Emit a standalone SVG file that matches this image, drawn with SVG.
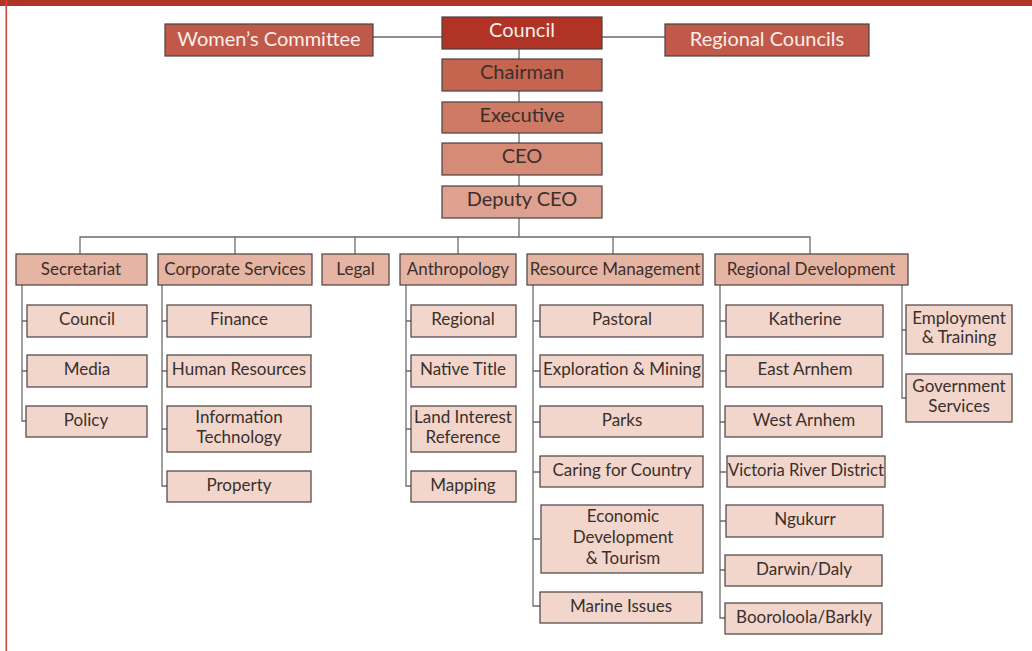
<svg xmlns="http://www.w3.org/2000/svg" width="1032" height="651" viewBox="0 0 1032 651">
<style>
text{font-family:Lato,"Liberation Sans",sans-serif;text-anchor:middle}
.box rect{stroke:#4a4040;stroke-width:1.2}
.t0 text{fill:#fbeee9;font-size:20px}
.t1 text{fill:#3a2f2c;font-size:20px}
.t2 text{fill:#3a2f2c;font-size:17px}
.t3 text{fill:#3a2f2c;font-size:17px}
.l2 rect{fill:#e6b4a2}
.l3 rect{fill:#f2d6cb}
#connectors path{fill:none;stroke:#6e6a6a;stroke-width:1.3}
</style>
<rect x="0" y="0" width="1032" height="651" fill="#ffffff"/>
<rect x="0" y="0" width="1032" height="6" fill="#b23427"/>
<rect x="5.5" y="0" width="1.6" height="651" fill="#c8483a"/>
<g id="connectors">
<path d="M373 37H442M602 37H665"/>
<path d="M519 49V237"/>
<path d="M80 254V237H810V254M235 237V254M355 237V254M458 237V254M613 237V254"/>
<path d="M22 285V421H27M22 321H27M22 371H27"/>
<path d="M162 285V486H167M162 321H167M162 371H167M162 429H167"/>
<path d="M406 285V486H411M406 321H411M406 371H411M406 429H411"/>
<path d="M533 285V606H540M533 321H540M533 371H540M533 422H540M533 472H540M533 539H540"/>
<path d="M720 285V618H726M720 321H726M720 371H726M720 422H726M720 472H726M720 521H726M720 570H726"/>
<path d="M902 285V398H906M902 330H906"/>
</g>
<g id="women" class="box t0"><rect x="165" y="24" width="208" height="32" fill="#c0594a"/><text x="269" y="46">Women’s Committee</text></g>
<g id="council" class="box t0"><rect x="442" y="17" width="160" height="32" fill="#b03326"/><text x="522" y="37">Council</text></g>
<g id="regional-councils" class="box t0"><rect x="665" y="24" width="204" height="32" fill="#c0594a"/><text x="767" y="46">Regional Councils</text></g>
<g id="chairman" class="box t1"><rect x="442" y="59" width="160" height="32" fill="#c56550"/><text x="522" y="79">Chairman</text></g>
<g id="executive" class="box t1"><rect x="442" y="102" width="160" height="31" fill="#cf7a65"/><text x="522" y="122">Executive</text></g>
<g id="ceo" class="box t1"><rect x="442" y="143" width="160" height="32" fill="#d68b77"/><text x="522" y="163">CEO</text></g>
<g id="deputy-ceo" class="box t1"><rect x="442" y="186" width="160" height="32" fill="#dfa18f"/><text x="522" y="206">Deputy CEO</text></g>

<g id="secretariat" class="box t2 l2"><rect x="16" y="254" width="131" height="31"/><text x="81" y="275">Secretariat</text></g>
<g id="corporate-services" class="box t2 l2"><rect x="158" y="254" width="154" height="31"/><text x="235" y="275">Corporate Services</text></g>
<g id="legal" class="box t2 l2"><rect x="322" y="254" width="67" height="31"/><text x="355.5" y="275">Legal</text></g>
<g id="anthropology" class="box t2 l2"><rect x="400" y="254" width="116" height="31"/><text x="458" y="275">Anthropology</text></g>
<g id="resource-management" class="box t2 l2"><rect x="527" y="254" width="176" height="31"/><text x="615" y="275">Resource Management</text></g>
<g id="regional-development" class="box t2 l2"><rect x="715" y="254" width="193" height="31"/><text x="811" y="275">Regional Development</text></g>

<g id="sec-council" class="box t3 l3"><rect x="27" y="305" width="120" height="32"/><text x="87" y="325">Council</text></g>
<g id="sec-media" class="box t3 l3"><rect x="27" y="355" width="120" height="32"/><text x="87" y="375">Media</text></g>
<g id="sec-policy" class="box t3 l3"><rect x="26" y="406" width="121" height="31"/><text x="86" y="426">Policy</text></g>

<g id="cs-finance" class="box t3 l3"><rect x="167" y="305" width="144" height="32"/><text x="239" y="325">Finance</text></g>
<g id="cs-hr" class="box t3 l3"><rect x="167" y="355" width="144" height="32"/><text x="239" y="375">Human Resources</text></g>
<g id="cs-it" class="box t3 l3"><rect x="167" y="406" width="144" height="46"/><text x="239" y="423">Information</text><text x="239" y="443">Technology</text></g>
<g id="cs-property" class="box t3 l3"><rect x="167" y="471" width="144" height="31"/><text x="239" y="491">Property</text></g>

<g id="an-regional" class="box t3 l3"><rect x="411" y="305" width="105" height="32"/><text x="463" y="325">Regional</text></g>
<g id="an-native-title" class="box t3 l3"><rect x="411" y="355" width="105" height="32"/><text x="463" y="375">Native Title</text></g>
<g id="an-land" class="box t3 l3"><rect x="411" y="406" width="105" height="46"/><text x="463" y="423">Land Interest</text><text x="463" y="443">Reference</text></g>
<g id="an-mapping" class="box t3 l3"><rect x="411" y="471" width="105" height="31"/><text x="463" y="491">Mapping</text></g>

<g id="rm-pastoral" class="box t3 l3"><rect x="540" y="305" width="163" height="32"/><text x="622" y="325">Pastoral</text></g>
<g id="rm-exploration" class="box t3 l3"><rect x="540" y="355" width="163" height="32"/><text x="622" y="375">Exploration &amp; Mining</text></g>
<g id="rm-parks" class="box t3 l3"><rect x="540" y="406" width="163" height="31"/><text x="622" y="426">Parks</text></g>
<g id="rm-caring" class="box t3 l3"><rect x="540" y="456" width="163" height="31"/><text x="622" y="476">Caring for Country</text></g>
<g id="rm-economic" class="box t3 l3"><rect x="541" y="505" width="162" height="68"/><text x="623" y="522">Economic</text><text x="623" y="543">Development</text><text x="623" y="564">&amp; Tourism</text></g>
<g id="rm-marine" class="box t3 l3"><rect x="540" y="592" width="162" height="31"/><text x="621" y="612">Marine Issues</text></g>

<g id="rd-katherine" class="box t3 l3"><rect x="726" y="305" width="157" height="32"/><text x="805" y="325">Katherine</text></g>
<g id="rd-east-arnhem" class="box t3 l3"><rect x="726" y="355" width="157" height="32"/><text x="805" y="375">East Arnhem</text></g>
<g id="rd-west-arnhem" class="box t3 l3"><rect x="725" y="406" width="157" height="31"/><text x="804" y="426">West Arnhem</text></g>
<g id="rd-victoria" class="box t3 l3"><rect x="727" y="456" width="158" height="31"/><text x="806" y="476" textLength="156" lengthAdjust="spacingAndGlyphs">Victoria River District</text></g>
<g id="rd-ngukurr" class="box t3 l3"><rect x="726" y="505" width="157" height="32"/><text x="805" y="525">Ngukurr</text></g>
<g id="rd-darwin" class="box t3 l3"><rect x="725" y="555" width="157" height="31"/><text x="804" y="575">Darwin/Daly</text></g>
<g id="rd-booroloola" class="box t3 l3"><rect x="725" y="603" width="157" height="31"/><text x="804" y="623">Booroloola/Barkly</text></g>

<g id="rd-employment" class="box t3 l3"><rect x="906" y="305" width="106" height="49"/><text x="959" y="324">Employment</text><text x="959" y="343">&amp; Training</text></g>
<g id="rd-government" class="box t3 l3"><rect x="906" y="374" width="106" height="48"/><text x="959" y="392">Government</text><text x="959" y="412">Services</text></g>
</svg>
